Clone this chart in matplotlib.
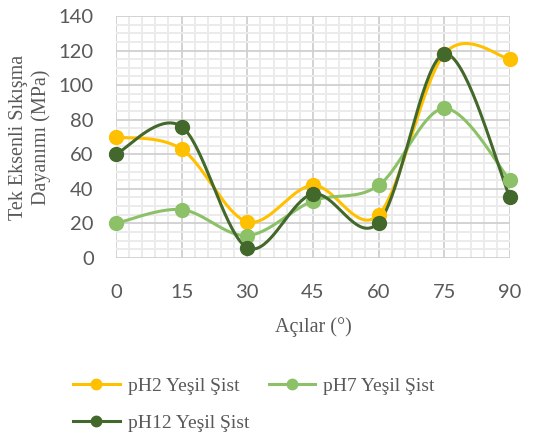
import numpy as np
import matplotlib
matplotlib.use("Agg")
import matplotlib.pyplot as plt
from matplotlib.ticker import MultipleLocator

# ----------------------------------------------------
#                 DATA
# ----------------------------------------------------
angles = [0, 15, 30, 45, 60, 75, 90]
ph2 = [70, 63, 21, 42, 25, 118, 115]
ph7 = [20, 28, 13, 33, 42, 86.5, 45]
ph12 = [60, 76, 6, 37, 20.5, 118, 35]

labels = ["pH2 Yeşil Şist", "pH7 Yeşil Şist", "pH12 Yeşil Şist"]
colors = ["#FFC000", "#8CC168", "#43682B"]


def excel_smooth(x, y, n=40):
    """Excel-like smoothed line: cubic Bezier segments with Catmull-Rom tangents."""
    x = np.asarray(x, float)
    y = np.asarray(y, float)
    px = np.concatenate([[x[0]], x, [x[-1]]])
    py = np.concatenate([[y[0]], y, [y[-1]]])
    t = np.linspace(0, 1, n)
    xs, ys = [], []
    for i in range(1, len(px) - 2):
        p0 = np.array([px[i - 1], py[i - 1]])
        p1 = np.array([px[i], py[i]])
        p2 = np.array([px[i + 1], py[i + 1]])
        p3 = np.array([px[i + 2], py[i + 2]])
        c1 = p1 + (p2 - p0) / 6
        c2 = p2 - (p3 - p1) / 6
        b = ((1 - t) ** 3)[:, None] * p1 + (3 * (1 - t) ** 2 * t)[:, None] * c1 \
            + (3 * (1 - t) * t ** 2)[:, None] * c2 + (t ** 3)[:, None] * p2
        xs.append(b[:, 0])
        ys.append(b[:, 1])
    return np.concatenate(xs), np.concatenate(ys)


fig = plt.figure(figsize=(5.34, 4.43), dpi=100)
ax = fig.add_axes([0.217, 0.4176, 0.738, 0.5464])

handles = []
for series, col, lab in zip([ph2, ph7, ph12], colors, labels):
    sx, sy = excel_smooth(angles, series)
    ax.plot(sx, sy, color=col, lw=2.2, zorder=3, clip_on=False)
    ax.plot(angles, series, "o", color=col, ms=10, zorder=4, clip_on=False)
    # legend handle with smaller marker, like Excel
    handles.append(ax.plot([], [], "-o", color=col, lw=2.2, ms=7.5)[0])

ax.set_xlim(0, 90)
ax.set_ylim(0, 140)
ax.xaxis.set_major_locator(MultipleLocator(15))
ax.xaxis.set_minor_locator(MultipleLocator(3))
ax.yaxis.set_major_locator(MultipleLocator(20))
ax.yaxis.set_minor_locator(MultipleLocator(5))
ax.grid(which="minor", color="#EBEBEB", lw=1.4, zorder=0)
ax.grid(which="major", color="#D0D0D0", lw=1.3, zorder=1)
ax.set_axisbelow(True)
for s in ax.spines.values():
    s.set_visible(False)
ax.tick_params(which="both", length=0, colors="#595959", labelsize=14.5)
ax.tick_params(axis="x", pad=19)
ax.tick_params(axis="y", pad=16)
for lbl in ax.get_xticklabels() + ax.get_yticklabels():
    lbl.set_family("Lato")

ax.set_xlabel("Açılar (°)", family="Liberation Serif", fontsize=14.5,
              color="#595959", va="center")
ax.xaxis.set_label_coords(0.5, -0.285)
ax.set_ylabel("Tek Eksenli Sıkışma\nDayanımı (MPa)", family="Liberation Serif",
              fontsize=14.5, color="#595959", va="center", linespacing=1.25)
ax.yaxis.set_label_coords(-0.218, 0.5)

# row order: pH2, pH7 on first row, pH12 below
order = [0, 2, 1]
fig.legend([handles[i] for i in order], [labels[i] for i in order],
           ncol=2, loc="upper left", bbox_to_anchor=(0.137, 0.148),
           frameon=False, borderpad=0, borderaxespad=0,
           handlelength=2.4, columnspacing=1.0, handletextpad=0.4,
           labelspacing=1.0, prop={"family": "Liberation Serif", "size": 14},
           labelcolor="#595959")

fig.savefig("out.png", dpi=100)
